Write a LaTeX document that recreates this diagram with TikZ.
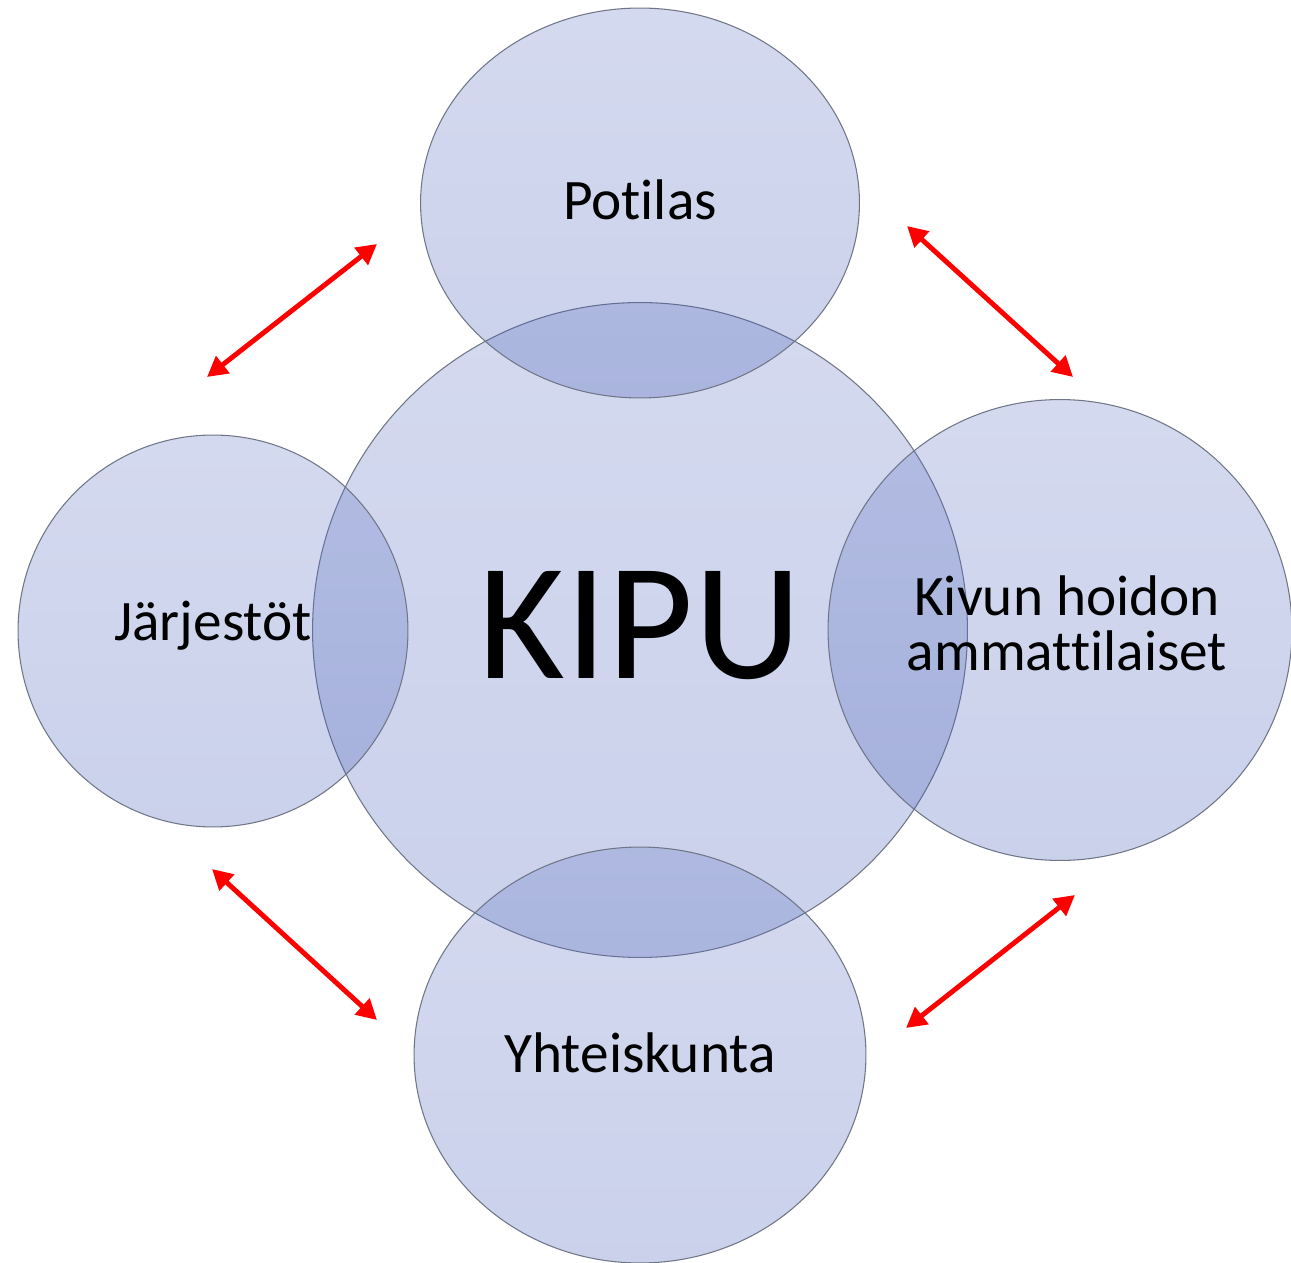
\documentclass[tikz,border=0pt]{standalone}
\usepackage{fontspec}
\setmainfont{Carlito}[Ligatures=NoCommon]
\usetikzlibrary{shapes.geometric, arrows.meta}
\definecolor{ringline}{RGB}{112,118,135}
\definecolor{ringtop}{RGB}{95,115,195}
\definecolor{ringbottom}{RGB}{60,85,180}
\tikzset{ring/.style = {draw=ringline, ellipse, line width=0.6pt, inner sep=0pt, top color=ringtop, bottom color=ringbottom, fill opacity=0.27, draw opacity=1}}
\tikzset{txt/.style = {anchor=base, inner sep=0pt, font=\fontsize{32.6}{31}\selectfont}}
\tikzset{bigtxt/.style = {anchor=base, inner sep=0pt, font=\fontsize{95}{110}\selectfont}}
\tikzset{link/.style = {{Triangle[length=11.5pt, width=12pt]}-{Triangle[length=11.5pt, width=12pt]}, red, line width=2.8pt}}

\begin{document}
\begin{tikzpicture}[x=0.02cm, y=-0.02cm]
  \useasboundingbox (0,0) rectangle (1291,1263);

  % circles
  \node [ring, minimum width=13.1cm, minimum height=13.1cm] (kipu) at (640,630) {};
  \node [ring, minimum width=8.78cm, minimum height=7.8cm] (potilas) at (640,203) {};
  \node [ring, minimum width=7.8cm, minimum height=7.84cm] (jarjestot) at (213,631) {};
  \node [ring, minimum width=9.28cm, minimum height=9.22cm] (kivun) at (1060,630) {};
  \node [ring, minimum width=9.04cm, minimum height=8.32cm] (yhteiskunta) at (640,1055) {};

  % texts
  \node [bigtxt] (kipu-t) at (640,678) {KIPU};
  \node [txt] (potilas-t) at (640,220) {Potilas};
  \node [txt] (jarjestot-t) at (213,640) {Järjestöt};
  \node [txt, align=center] (kivun-t) at (1067,670) {Kivun hoidon\\ammattilaiset};
  \node [txt] (yhteiskunta-t) at (640,1072) {Yhteiskunta};

  % arrow ends
  \coordinate (a1) at (377,244);
  \coordinate (a2) at (207,377);
  \coordinate (b1) at (907,226);
  \coordinate (b2) at (1073,377);
  \coordinate (c1) at (212,869);
  \coordinate (c2) at (377,1020);
  \coordinate (d1) at (1075,895);
  \coordinate (d2) at (906,1028);

  \draw [link] (a1) -- (a2);
  \draw [link] (b1) -- (b2);
  \draw [link] (c1) -- (c2);
  \draw [link] (d1) -- (d2);
\end{tikzpicture}
\end{document}
